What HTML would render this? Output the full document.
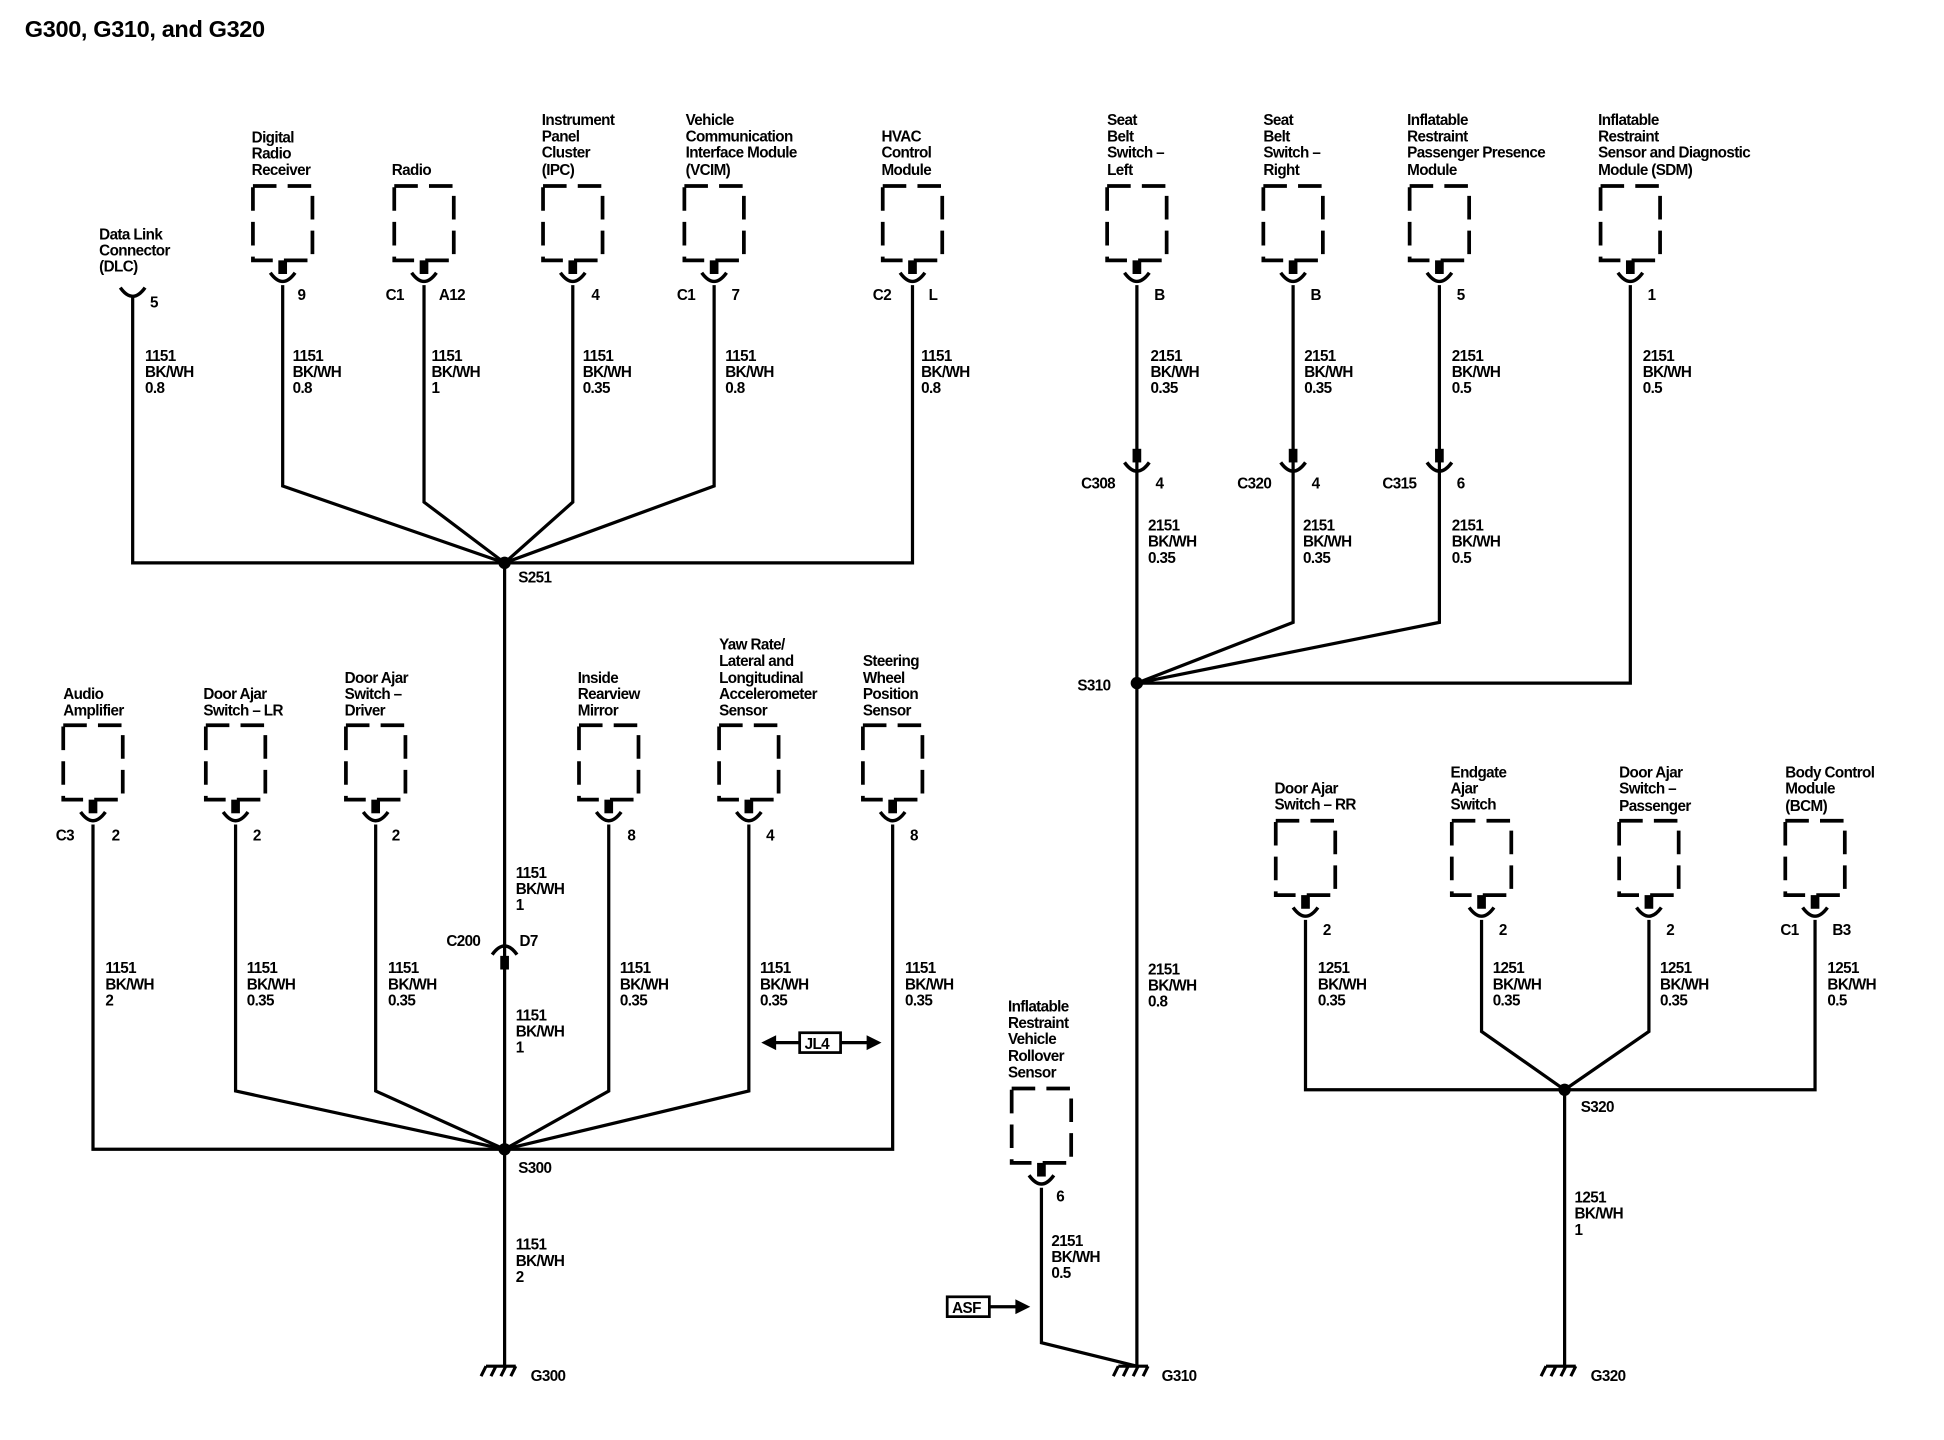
<!DOCTYPE html>
<html><head><meta charset="utf-8"><style>
html,body{margin:0;padding:0;background:#fff;}
svg{display:block}
text{font-family:"Liberation Sans",sans-serif;font-weight:bold;font-size:12.3px;letter-spacing:-0.5px;fill:#000}
</style></head><body>
<svg width="1944" height="1440" viewBox="0 0 1568 1161.5" xmlns="http://www.w3.org/2000/svg">
<defs>
<g id="c">
<rect x="-24" y="0" width="48" height="60" fill="none" stroke="#000" stroke-width="3" stroke-dasharray="19 9"/>
<rect x="-3.5" y="60" width="7" height="11" fill="#000"/>
<path d="M-10,70 Q0,84 10,70" fill="none" stroke="#000" stroke-width="2.8"/>
</g>
<g id="cup"><path d="M-10,0 Q0,14 10,0" fill="none" stroke="#000" stroke-width="2.8"/></g>
<g id="inl"><rect x="-3.5" y="-11" width="7" height="11" fill="#000"/><path d="M-10,0 Q0,14 10,0" fill="none" stroke="#000" stroke-width="2.8"/></g>
<g id="inu"><path d="M-10,0 Q0,-14 10,0" fill="none" stroke="#000" stroke-width="2.8"/><rect x="-3.5" y="1" width="7" height="11" fill="#000"/></g>
<g id="gnd"><path d="M-12,0 H12 M-12,0 l-4,8 M-4,0 l-4,8 M4,0 l-4,8 M12,0 l-4,8" stroke="#000" stroke-width="2.5" fill="none"/></g>
</defs>
<text x="20" y="30" style="font-size:19px;letter-spacing:-0.3px">G300, G310, and G320</text>

<g fill="none" stroke="#000" stroke-width="2.6">
<path d="M107,240 V454 H736 V230"/>
<path d="M228,230 V392 L407,454"/>
<path d="M342,230 V405 L407,454"/>
<path d="M462,230 V405 L407,454"/>
<path d="M576,230 V392 L407,454"/>
<path d="M407,454 V1102"/>
<path d="M75,665 V927 H720 V665"/>
<path d="M190,665 V880 L407,927"/>
<path d="M303,665 V880 L407,927"/>
<path d="M491,665 V880 L407,927"/>
<path d="M604,665 V880 L407,927"/>
<path d="M917,230 V1102"/>
<path d="M1043,230 V502 L917,551"/>
<path d="M1161,230 V502 L917,551"/>
<path d="M1315,230 V551 H917"/>
<path d="M840,958 V1083 L917,1102"/>
<path d="M1053,742 V879 H1464 V742"/>
<path d="M1195,742 V832 L1262,879"/>
<path d="M1330,742 V832 L1262,879"/>
<path d="M1262,879 V1102"/>
<rect x="645" y="833" width="33" height="16" stroke-width="2.2"/>
<path d="M624,841 H645 M678,841 H700"/>
<rect x="764" y="1046" width="34" height="16" stroke-width="2.2"/>
<path d="M798,1054 H820"/>
</g>
<g fill="#000">
<path d="M614,841 l12,-6 v12z"/><path d="M711,841 l-12,-6 v12z"/>
<path d="M831,1054 l-12,-6 v12z"/>
<circle cx="407" cy="454" r="5"/><circle cx="407" cy="927" r="5"/>
<circle cx="917" cy="551" r="5"/><circle cx="1262" cy="879" r="5"/>
</g>

<use href="#cup" x="107" y="232"/>
<use href="#c" x="228" y="150"/><use href="#c" x="342" y="150"/><use href="#c" x="462" y="150"/>
<use href="#c" x="576" y="150"/><use href="#c" x="736" y="150"/>
<use href="#c" x="917" y="150"/><use href="#c" x="1043" y="150"/><use href="#c" x="1161" y="150"/><use href="#c" x="1315" y="150"/>
<use href="#c" x="75" y="585"/><use href="#c" x="190" y="585"/><use href="#c" x="303" y="585"/>
<use href="#c" x="491" y="585"/><use href="#c" x="604" y="585"/><use href="#c" x="720" y="585"/>
<use href="#c" x="840" y="878"/>
<use href="#c" x="1053" y="662"/><use href="#c" x="1195" y="662"/><use href="#c" x="1330" y="662"/><use href="#c" x="1464" y="662"/>
<use href="#inu" x="407" y="770"/>
<use href="#inl" x="917" y="373"/><use href="#inl" x="1043" y="373"/><use href="#inl" x="1161" y="373"/>
<use href="#gnd" x="404" y="1102"/><use href="#gnd" x="914" y="1102"/><use href="#gnd" x="1259" y="1102"/>

<text x="80" y="193">Data Link</text><text x="80" y="206">Connector</text><text x="80" y="219">(DLC)</text>
<text x="203" y="115">Digital</text><text x="203" y="128">Radio</text><text x="203" y="141">Receiver</text>
<text x="316" y="141">Radio</text>
<text x="437" y="101">Instrument</text><text x="437" y="114">Panel</text><text x="437" y="127">Cluster</text><text x="437" y="141">(IPC)</text>
<text x="553" y="101">Vehicle</text><text x="553" y="114">Communication</text><text x="553" y="127">Interface Module</text><text x="553" y="141">(VCIM)</text>
<text x="711" y="114">HVAC</text><text x="711" y="127">Control</text><text x="711" y="141">Module</text>
<text x="893" y="101">Seat</text><text x="893" y="114">Belt</text><text x="893" y="127">Switch –</text><text x="893" y="141">Left</text>
<text x="1019" y="101">Seat</text><text x="1019" y="114">Belt</text><text x="1019" y="127">Switch –</text><text x="1019" y="141">Right</text>
<text x="1135" y="101">Inflatable</text><text x="1135" y="114">Restraint</text><text x="1135" y="127">Passenger Presence</text><text x="1135" y="141">Module</text>
<text x="1289" y="101">Inflatable</text><text x="1289" y="114">Restraint</text><text x="1289" y="127">Sensor and Diagnostic</text><text x="1289" y="141">Module (SDM)</text>
<text x="51" y="564">Audio</text><text x="51" y="577">Amplifier</text>
<text x="164" y="564">Door Ajar</text><text x="164" y="577">Switch – LR</text>
<text x="278" y="551">Door Ajar</text><text x="278" y="564">Switch –</text><text x="278" y="577">Driver</text>
<text x="466" y="551">Inside</text><text x="466" y="564">Rearview</text><text x="466" y="577">Mirror</text>
<text x="580" y="524">Yaw Rate/</text><text x="580" y="537">Lateral and</text><text x="580" y="551">Longitudinal</text><text x="580" y="564">Accelerometer</text><text x="580" y="577">Sensor</text>
<text x="696" y="537">Steering</text><text x="696" y="551">Wheel</text><text x="696" y="564">Position</text><text x="696" y="577">Sensor</text>
<text x="813" y="816">Inflatable</text><text x="813" y="829">Restraint</text><text x="813" y="842">Vehicle</text><text x="813" y="856">Rollover</text><text x="813" y="869">Sensor</text>
<text x="1028" y="640">Door Ajar</text><text x="1028" y="653">Switch – RR</text>
<text x="1170" y="627">Endgate</text><text x="1170" y="640">Ajar</text><text x="1170" y="653">Switch</text>
<text x="1306" y="627">Door Ajar</text><text x="1306" y="640">Switch –</text><text x="1306" y="654">Passenger</text>
<text x="1440" y="627">Body Control</text><text x="1440" y="640">Module</text><text x="1440" y="654">(BCM)</text>

<text x="121" y="248">5</text><text x="240" y="242">9</text>
<text x="311" y="242">C1</text><text x="354" y="242">A12</text>
<text x="477" y="242">4</text><text x="546" y="242">C1</text><text x="590" y="242">7</text>
<text x="704" y="242">C2</text><text x="749" y="242">L</text>
<text x="931" y="242">B</text><text x="1057" y="242">B</text><text x="1175" y="242">5</text><text x="1329" y="242">1</text>
<text x="872" y="394">C308</text><text x="932" y="394">4</text>
<text x="998" y="394">C320</text><text x="1058" y="394">4</text>
<text x="1115" y="394">C315</text><text x="1175" y="394">6</text>
<text x="45" y="678">C3</text><text x="90" y="678">2</text><text x="204" y="678">2</text><text x="316" y="678">2</text>
<text x="506" y="678">8</text><text x="618" y="678">4</text><text x="734" y="678">8</text>
<text x="360" y="763">C200</text><text x="419" y="763">D7</text>
<text x="852" y="969">6</text>
<text x="1067" y="754">2</text><text x="1209" y="754">2</text><text x="1344" y="754">2</text>
<text x="1436" y="754">C1</text><text x="1478" y="754">B3</text>

<text x="418" y="470">S251</text><text x="418" y="946">S300</text>
<text x="869" y="557">S310</text><text x="1275" y="897">S320</text>
<text x="428" y="1114">G300</text><text x="937" y="1114">G310</text><text x="1283" y="1114">G320</text>
<text x="649" y="846">JL4</text><text x="768" y="1059">ASF</text>

<text x="117" y="291">1151</text><text x="117" y="304">BK/WH</text><text x="117" y="317">0.8</text>
<text x="236" y="291">1151</text><text x="236" y="304">BK/WH</text><text x="236" y="317">0.8</text>
<text x="348" y="291">1151</text><text x="348" y="304">BK/WH</text><text x="348" y="317">1</text>
<text x="470" y="291">1151</text><text x="470" y="304">BK/WH</text><text x="470" y="317">0.35</text>
<text x="585" y="291">1151</text><text x="585" y="304">BK/WH</text><text x="585" y="317">0.8</text>
<text x="743" y="291">1151</text><text x="743" y="304">BK/WH</text><text x="743" y="317">0.8</text>
<text x="928" y="291">2151</text><text x="928" y="304">BK/WH</text><text x="928" y="317">0.35</text>
<text x="1052" y="291">2151</text><text x="1052" y="304">BK/WH</text><text x="1052" y="317">0.35</text>
<text x="1171" y="291">2151</text><text x="1171" y="304">BK/WH</text><text x="1171" y="317">0.5</text>
<text x="1325" y="291">2151</text><text x="1325" y="304">BK/WH</text><text x="1325" y="317">0.5</text>
<text x="926" y="428">2151</text><text x="926" y="441">BK/WH</text><text x="926" y="454">0.35</text>
<text x="1051" y="428">2151</text><text x="1051" y="441">BK/WH</text><text x="1051" y="454">0.35</text>
<text x="1171" y="428">2151</text><text x="1171" y="441">BK/WH</text><text x="1171" y="454">0.5</text>
<text x="416" y="708">1151</text><text x="416" y="721">BK/WH</text><text x="416" y="734">1</text>
<text x="416" y="823">1151</text><text x="416" y="836">BK/WH</text><text x="416" y="849">1</text>
<text x="416" y="1008">1151</text><text x="416" y="1021">BK/WH</text><text x="416" y="1034">2</text>
<text x="85" y="785">1151</text><text x="85" y="798">BK/WH</text><text x="85" y="811">2</text>
<text x="199" y="785">1151</text><text x="199" y="798">BK/WH</text><text x="199" y="811">0.35</text>
<text x="313" y="785">1151</text><text x="313" y="798">BK/WH</text><text x="313" y="811">0.35</text>
<text x="500" y="785">1151</text><text x="500" y="798">BK/WH</text><text x="500" y="811">0.35</text>
<text x="613" y="785">1151</text><text x="613" y="798">BK/WH</text><text x="613" y="811">0.35</text>
<text x="730" y="785">1151</text><text x="730" y="798">BK/WH</text><text x="730" y="811">0.35</text>
<text x="926" y="786">2151</text><text x="926" y="799">BK/WH</text><text x="926" y="812">0.8</text>
<text x="848" y="1005">2151</text><text x="848" y="1018">BK/WH</text><text x="848" y="1031">0.5</text>
<text x="1063" y="785">1251</text><text x="1063" y="798">BK/WH</text><text x="1063" y="811">0.35</text>
<text x="1204" y="785">1251</text><text x="1204" y="798">BK/WH</text><text x="1204" y="811">0.35</text>
<text x="1339" y="785">1251</text><text x="1339" y="798">BK/WH</text><text x="1339" y="811">0.35</text>
<text x="1474" y="785">1251</text><text x="1474" y="798">BK/WH</text><text x="1474" y="811">0.5</text>
<text x="1270" y="970">1251</text><text x="1270" y="983">BK/WH</text><text x="1270" y="996">1</text>
</svg>
</body></html>
